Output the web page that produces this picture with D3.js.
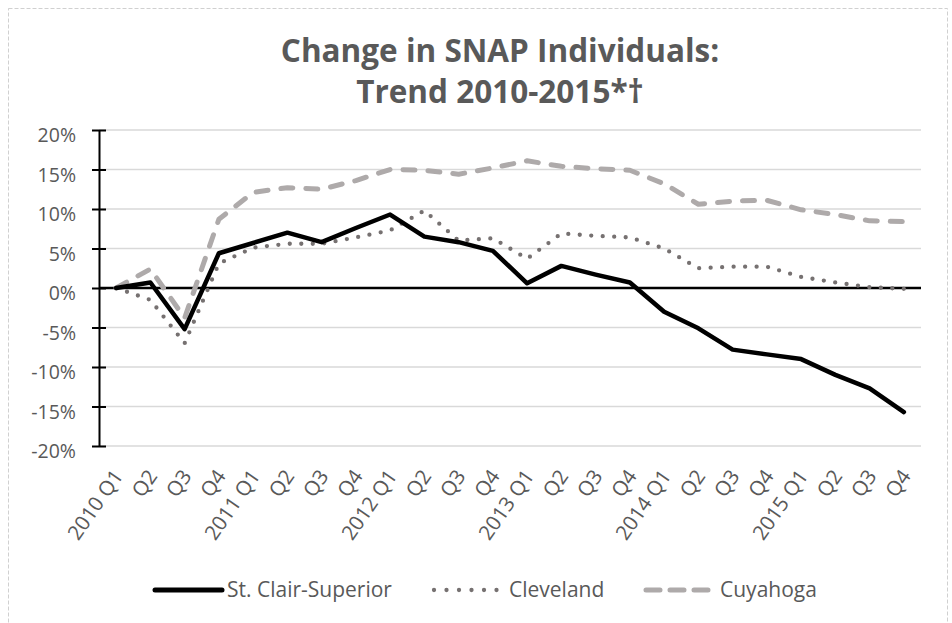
<!DOCTYPE html>
<meta charset="utf-8">
<style>
body { margin: 0; background: #fff; }
svg { font-family: "Open Sans", "Noto Sans", sans-serif; }
.xlab { fill: #595959; font-size: 20.5px; }
.title { fill: #595959; font-size: 31.5px; font-weight: bold; }
.legend text { fill: #595959; font-size: 21px; }
</style>
<body>
<script src="https://d3js.org/d3.v7.min.js"></script>
<script>
// quarters along the x axis
var quarters = ["2010 Q1","Q2","Q3","Q4","2011 Q1","Q2","Q3","Q4","2012 Q1","Q2","Q3","Q4",
                "2013 Q1","Q2","Q3","Q4","2014 Q1","Q2","Q3","Q4","2015 Q1","Q2","Q3","Q4"];

// percent change since 2010 Q1
var stClair = [0, 0.7, -5.2, 4.4, 5.7, 7.0, 5.8, 7.6, 9.3, 6.5, 5.8, 4.7,
               0.6, 2.8, 1.7, 0.7, -3.0, -5.1, -7.8, -8.4, -9.0, -11.0, -12.7, -15.7];
var cleveland = [0, -1.5, -7.0, 3.1, 5.1, 5.6, 5.6, 6.4, 7.3, 9.8, 6.0, 6.3,
                 3.7, 6.9, 6.6, 6.4, 5.0, 2.5, 2.7, 2.7, 1.4, 0.7, 0.1, -0.1];
var cuyahoga = [0, 2.4, -3.8, 8.7, 12.1, 12.7, 12.5, 13.6, 15.0, 14.9, 14.4, 15.2,
                16.1, 15.4, 15.1, 14.9, 13.2, 10.6, 11.0, 11.1, 9.9, 9.3, 8.5, 8.4];

var yTicks = [-20, -15, -10, -5, 0, 5, 10, 15, 20];

var width = 952, height = 623;
var svg = d3.select("body").append("svg")
    .attr("width", width)
    .attr("height", height);

// dashed frame
svg.append("rect")
    .attr("x", 8.5).attr("y", 8.5)
    .attr("width", 939).attr("height", 640)
    .attr("fill", "none")
    .attr("stroke", "#d0d0d0")
    .attr("stroke-dasharray", "4 2");

// title
svg.append("text").attr("class", "title")
    .attr("x", 500).attr("y", 62).attr("text-anchor", "middle")
    .text("Change in SNAP Individuals:");
svg.append("text").attr("class", "title")
    .attr("x", 500).attr("y", 103).attr("text-anchor", "middle")
    .text("Trend 2010-2015*\u2020");

var x = d3.scaleBand().domain(d3.range(quarters.length)).range([99, 921]);
var y = d3.scaleLinear().domain([-20, 20]).range([446, 130]);

// gridlines
svg.append("g").selectAll("line")
    .data(yTicks).join("line")
    .attr("x1", 99).attr("x2", 921)
    .attr("y1", function(d) { return y(d); })
    .attr("y2", function(d) { return y(d); })
    .attr("stroke", "#d9d9d9")
    .attr("stroke-width", 1.3);

// y axis
var yAxis = svg.append("g")
    .attr("transform", "translate(99,0)")
    .call(d3.axisLeft(y).tickValues(yTicks)
        .tickSizeInner(7).tickSizeOuter(0).tickPadding(16)
        .tickFormat(function(d) { return d + "%"; }));
yAxis.select(".domain").attr("stroke", "#000").attr("stroke-width", 2);
yAxis.selectAll(".tick line").attr("x2", 7).attr("x1", -7)
    .attr("stroke", "#000").attr("stroke-width", 2);
yAxis.selectAll(".tick text")
    .attr("dy", "0.6em")
    .style("fill", "#595959").style("font-size", "19.5px")
    .style("font-family", "'Open Sans', sans-serif");

// zero line
svg.append("line")
    .attr("x1", 99).attr("x2", 921)
    .attr("y1", y(0)).attr("y2", y(0))
    .attr("stroke", "#000").attr("stroke-width", 2.5);

// x labels
svg.append("g").selectAll("text")
    .data(quarters).join("text")
    .attr("class", "xlab")
    .attr("text-anchor", "end")
    .attr("dy", "0.35em")
    .attr("transform", function(d, i) {
        return "translate(" + (x(i) + x.bandwidth() / 2 + 2) + ",472) rotate(-55)";
    })
    .text(function(d) { return d; });

var line = d3.line()
    .x(function(d, i) { return x(i) + x.bandwidth() / 2; })
    .y(function(d) { return y(d); });

var series = [
  { name: "St. Clair-Superior", values: stClair, color: "#000", width: 4.5, dash: null },
  { name: "Cleveland", values: cleveland, color: "#767171", width: 4.3, dash: "0 11.5" },
  { name: "Cuyahoga", values: cuyahoga, color: "#aeaaaa", width: 5, dash: "12 13" }
];

// draw back to front
[series[2], series[1], series[0]].forEach(function(s) {
  svg.append("path")
      .datum(s.values)
      .attr("d", line)
      .attr("fill", "none")
      .attr("stroke", s.color)
      .attr("stroke-width", s.width)
      .attr("stroke-linecap", "round")
      .attr("stroke-linejoin", "round")
      .attr("stroke-dasharray", s.dash);
});

// legend
var legendPos = [
  { x1: 155, x2: 222, tx: 227 },
  { x1: 434, x2: 497, tx: 509 },
  { x1: 646, x2: 708, tx: 720 }
];
var legend = svg.append("g").attr("class", "legend");
series.forEach(function(s, i) {
  var p = legendPos[i];
  legend.append("line")
      .attr("x1", p.x1).attr("x2", p.x2)
      .attr("y1", 590).attr("y2", 590)
      .attr("stroke", s.color)
      .attr("stroke-width", i == 0 ? 5 : s.width)
      .attr("stroke-linecap", "round")
      .attr("stroke-dasharray", i == 1 ? "0 12.5" : (i == 2 ? "14 10" : null));
  legend.append("text")
      .attr("x", p.tx).attr("y", 590).attr("dy", "0.35em")
      .text(s.name);
});
</script>
</body>
